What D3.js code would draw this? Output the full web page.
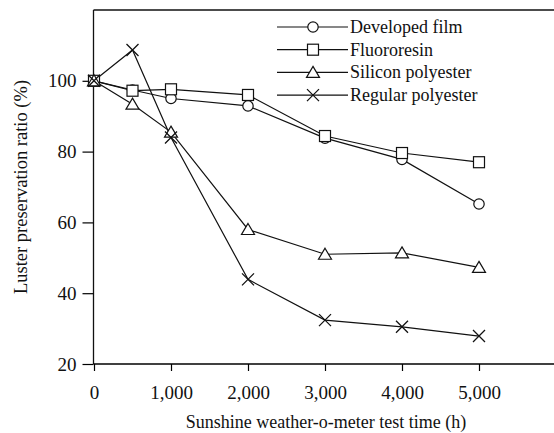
<!DOCTYPE html>
<html>
<head>
<meta charset="utf-8">
<script src="https://cdn.jsdelivr.net/npm/d3@7"></script>
<style>
  body { margin: 0; background: #fff; }
</style>
</head>
<body>
<svg id="chart" width="554" height="433"></svg>
<script>
/* Data */
var hours = [0, 500, 1000, 2000, 3000, 4000, 5000];
var developedFilm = [100, 97.4, 95.0, 92.9, 83.8, 77.8, 65.2];
var fluororesin = [100, 97.2, 97.6, 96.0, 84.4, 79.6, 77.0];
var siliconPolyester = [100, 93.4, 85.5, 58.0, 51.0, 51.4, 47.3];
var regularPolyester = [100, 108.7, 84.0, 43.9, 32.4, 30.5, 27.9];
var seriesNames = ["Developed film", "Fluororesin", "Silicon polyester", "Regular polyester"];
var markerTypes = ["circle", "square", "triangle", "cross"];
var xTicks = [0, 1000, 2000, 3000, 4000, 5000];
var yTicks = [20, 40, 60, 80, 100];

var FONT = "'Liberation Serif', 'Times New Roman', serif";

var series = [developedFilm, fluororesin, siliconPolyester, regularPolyester].map(function(vals, i) {
    return { name: seriesNames[i], marker: markerTypes[i],
             points: hours.map(function(h, j) { return { x: h, y: vals[j] }; }) };
});

var svg = d3.select("#chart");

/* Scales */
var x = d3.scaleLinear().domain([0, 5000]).range([94, 479]);
var y = d3.scaleLinear().domain([20, 120]).range([364, 10]);
var left = 93.5, right = 554;

/* Frame: top and left lines (bottom comes with the axis) */
svg.append("line").attr("x1", left).attr("x2", right).attr("y1", y(120)).attr("y2", y(120))
    .attr("stroke", "#111").attr("stroke-width", 1.3);
svg.append("line").attr("x1", left).attr("x2", left).attr("y1", y(120)).attr("y2", y(20))
    .attr("stroke", "#111").attr("stroke-width", 1.3);

// Bottom axis
var xAxis = svg.append("g")
    .attr("transform", "translate(0," + y(20) + ")")
    .call(d3.axisBottom(x).tickValues(xTicks).tickSize(7).tickPadding(15)
        .tickFormat(d3.format(",")));
xAxis.select(".domain").attr("d", "M" + left + ",0H" + right).attr("stroke-width", 1.3);
xAxis.selectAll("line").attr("stroke-width", 1.2);
xAxis.selectAll("text").attr("font-size", 19).attr("font-family", FONT).attr("fill", "#111");

// Left axis
var yAxis = svg.append("g")
    .attr("transform", "translate(" + left + ",0)")
    .call(d3.axisLeft(y).tickValues(yTicks).tickSize(11).tickPadding(6));
yAxis.select(".domain").remove();
yAxis.selectAll("line").attr("stroke-width", 1.2);
yAxis.selectAll("text").attr("font-size", 19).attr("font-family", FONT).attr("fill", "#111");

/* Axis titles */
svg.append("text")
    .attr("x", 326).attr("y", 428)
    .attr("text-anchor", "middle").attr("font-size", 18).attr("font-family", FONT).attr("fill", "#111")
    .text("Sunshine weather-o-meter test time (h)");
svg.append("text")
    .attr("transform", "translate(27,187) rotate(-90)")
    .attr("text-anchor", "middle").attr("font-size", 18.5).attr("font-family", FONT).attr("fill", "#111")
    .text("Luster preservation ratio (%)");

/* Lines */
var valueline = d3.line()
    .x(function(d) { return x(d.x); })
    .y(function(d) { return y(d.y); });

svg.selectAll(".series-line")
    .data(series)
    .enter().append("path")
    .attr("class", "series-line")
    .attr("d", function(s) { return valueline(s.points); })
    .attr("fill", "none").attr("stroke", "#111").attr("stroke-width", 1.2);

/* Markers */
function drawMarker(g, type, cx, cy) {
    if (type === "circle") {
        g.append("circle").attr("cx", cx).attr("cy", cy).attr("r", 5.2)
            .attr("fill", "#fff").attr("stroke", "#111").attr("stroke-width", 1.2);
    } else if (type === "square") {
        g.append("rect").attr("x", cx - 5.5).attr("y", cy - 5.5).attr("width", 11).attr("height", 11)
            .attr("fill", "#fff").attr("stroke", "#111").attr("stroke-width", 1.2);
    } else if (type === "triangle") {
        g.append("path").attr("d", "M" + cx + "," + (cy - 6) + "L" + (cx + 6.5) + "," + (cy + 5) +
                "L" + (cx - 6.5) + "," + (cy + 5) + "Z")
            .attr("fill", "#fff").attr("stroke", "#111").attr("stroke-width", 1.2);
    } else {
        g.append("path").attr("d", "M" + (cx - 6) + "," + (cy - 6) + "L" + (cx + 6) + "," + (cy + 6) +
                "M" + (cx - 6) + "," + (cy + 6) + "L" + (cx + 6) + "," + (cy - 6))
            .attr("fill", "none").attr("stroke", "#111").attr("stroke-width", 1.3);
    }
}

series.forEach(function(s) {
    var g = svg.append("g");
    s.points.forEach(function(p) { drawMarker(g, s.marker, x(p.x), y(p.y)); });
});

/* Legend */
var legend = svg.append("g");
series.forEach(function(s, i) {
    var ly = 27 + i * 22.7;
    legend.append("line").attr("x1", 277).attr("x2", 348).attr("y1", ly).attr("y2", ly)
        .attr("stroke", "#111").attr("stroke-width", 1.2);
    drawMarker(legend, s.marker, 313, ly);
    legend.append("text").attr("x", 350).attr("y", ly + 6)
        .attr("font-size", 18).attr("font-family", FONT).attr("fill", "#111").text(s.name);
});
</script>
</body>
</html>
